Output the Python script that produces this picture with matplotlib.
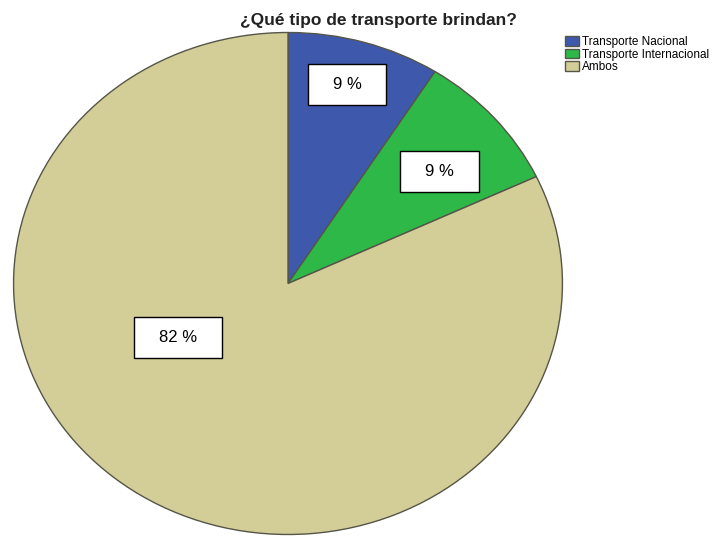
import matplotlib
matplotlib.use("Agg")
import matplotlib.pyplot as plt
from matplotlib.path import Path

categories = ["Transporte Nacional", "Transporte Internacional", "Ambos"]
percentages = [9, 9, 82]
colors = ["#3E58AC", "#2EB848", "#D3CE97"]
title = "¿Qué tipo de transporte brindan?"

# label box centres in axes-data units (pie radius = 1)
label_pos = [(0.215, 0.793), (0.553, 0.445), (-0.402, -0.217)]

W, H = 725, 538
fig = plt.figure(figsize=(W / 100, H / 100), dpi=100)
plt.rcParams["font.family"] = ["Liberation Sans", "DejaVu Sans"]

# pie occupies a slightly wide ellipse
left, right, top, bottom = 13, 563, 32, 535
ax = fig.add_axes([left / W, (H - bottom) / H, (right - left) / W, (bottom - top) / H])

wedges, _ = ax.pie(
    percentages,
    colors=colors,
    startangle=90,
    counterclock=False,
    radius=1.0,
    wedgeprops=dict(edgecolor="#555548", linewidth=1.0),
)
ax.set_aspect("auto")
ax.set_xlim(-1.002, 1.002)
ax.set_ylim(-1.002, 1.002)
ax.axis("off")


def label_box(x0, y0, width, height, mutation_size):
    # rectangle with wider horizontal than vertical padding (pixels)
    px, py = 25, 13
    x0 -= px
    y0 -= py
    x1 = x0 + width + 2 * px
    y1 = y0 + height + 2 * py
    return Path([(x0, y0), (x1, y0), (x1, y1), (x0, y1), (x0, y0)], closed=True)


for (x, y), v in zip(label_pos, percentages):
    ax.text(
        x, y, f"{v} %",
        ha="center", va="center", fontsize=12, color="black",
        bbox=dict(boxstyle=label_box, facecolor="white", edgecolor="black", linewidth=1.0),
    )

fig.text(378 / W, 1 - 21 / H, title, ha="center", va="center",
         fontsize=12.5, fontweight="bold", color="#222222")

fig.legend(
    wedges, categories,
    loc="upper left",
    bbox_to_anchor=(565 / W, 1 - 36 / H),
    frameon=False,
    fontsize=8.5,
    handlelength=1.2,
    handleheight=0.85,
    handletextpad=0.25,
    labelspacing=0.05,
    borderaxespad=0,
    borderpad=0,
)

fig.savefig("out.png", dpi=100)
